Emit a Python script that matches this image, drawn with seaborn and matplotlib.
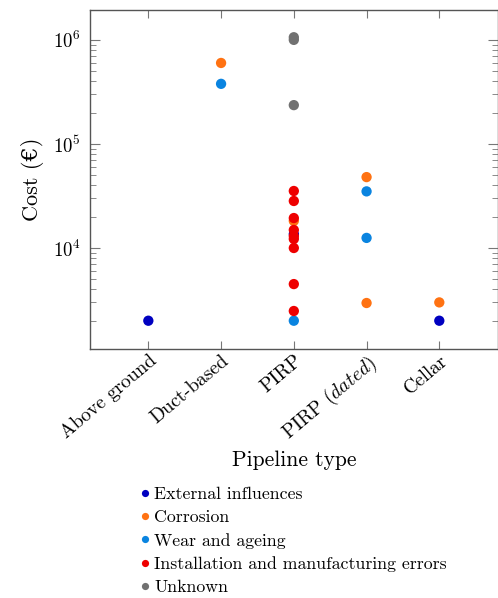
import matplotlib
matplotlib.use("Agg")
import matplotlib.pyplot as plt
import seaborn as sns
import pandas as pd
from matplotlib.ticker import LogLocator, NullFormatter

categories = ["Above ground", "Duct-based", "PIRP", r"PIRP $\mathit{(dated)}$", "Cellar"]
causes = ["External influences", "Corrosion", "Wear and ageing",
          "Installation and manufacturing errors", "Unknown"]
colors = ["#0000c0", "#ff7212", "#0a84e0", "#ee0000", "#717171"]

# (category index, cost) per cause
ext_cat = [0, 2, 4]
ext_cost = [2000, 13600, 2000]
cor_cat = [1, 2, 3, 3, 4]
cor_cost = [600000, 18200, 48000, 2960, 3000]
wear_cat = [1, 2, 3, 3]
wear_cost = [378000, 2000, 35000, 12500]
inst_cat = [2, 2, 2, 2, 2, 2, 2, 2, 2]
inst_cost = [35300, 28300, 19400, 14900, 13000, 12200, 10000, 4500, 2480]
unk_cat = [2, 2, 2]
unk_cost = [1000000, 1060000, 236000]

rows = []
for ci, (cats, costs) in enumerate([(ext_cat, ext_cost), (cor_cat, cor_cost),
                                     (wear_cat, wear_cost), (inst_cat, inst_cost),
                                     (unk_cat, unk_cost)]):
    for c, v in zip(cats, costs):
        rows.append({"x": c, "cost": v, "cause": causes[ci]})
df = pd.DataFrame(rows)

sns.set_style("white")
plt.rcParams["font.family"] = ["cmr10", "DejaVu Serif"]
plt.rcParams["mathtext.fontset"] = "cm"
plt.rcParams["axes.formatter.use_mathtext"] = True
plt.rcParams["text.color"] = "black"
plt.rcParams["xtick.labelcolor"] = "black"
plt.rcParams["ytick.labelcolor"] = "black"
plt.rcParams["axes.labelcolor"] = "black"

fig = plt.figure(figsize=(4.98, 5.98), dpi=100)
ax = fig.add_axes([0.181, 0.4164, 0.818, 0.567])

sns.scatterplot(data=df, x="x", y="cost", hue="cause", hue_order=causes,
                palette=colors, s=55, edgecolor="none", linewidth=0, ax=ax,
                legend=True, zorder=3)

ax.set_yscale("log")
ax.set_ylim(1070, 1.94e6)
ax.set_xlim(-0.8, 4.8)
ax.set_xticks(range(len(categories)))
ax.set_xticklabels(categories, rotation=40, ha="right", rotation_mode="anchor",
                   fontsize=14)
ax.yaxis.set_major_locator(LogLocator(base=10, numticks=10))
ax.yaxis.set_minor_locator(LogLocator(base=10, subs=range(2, 10), numticks=10))
ax.yaxis.set_minor_formatter(NullFormatter())
ax.tick_params(axis="y", which="major", direction="in", length=7, width=0.8,
               color="#777777", labelsize=13.5, right=True, left=True, pad=7)
ax.tick_params(axis="y", which="minor", direction="in", length=4, width=0.6,
               color="#777777", right=True, left=True)
ax.tick_params(axis="x", which="major", direction="in", length=6, width=0.8,
               color="#777777", top=True, bottom=True, pad=2)
for sp in ax.spines.values():
    sp.set_color("#555555")
    sp.set_linewidth(1.0)

ax.set_xlabel("Pipeline type", fontsize=15.5, labelpad=4)
ax.set_ylabel("Cost (€)", fontsize=16, labelpad=6)

handles, labels = ax.get_legend_handles_labels()
ax.legend(handles, labels, loc="upper left", bbox_to_anchor=(0.096, -0.385),
          frameon=False, fontsize=12.8, handletextpad=0.0, markerscale=0.7,
          labelspacing=0.43, handlelength=1.0, borderaxespad=0)

fig.savefig("out.png", dpi=100)
